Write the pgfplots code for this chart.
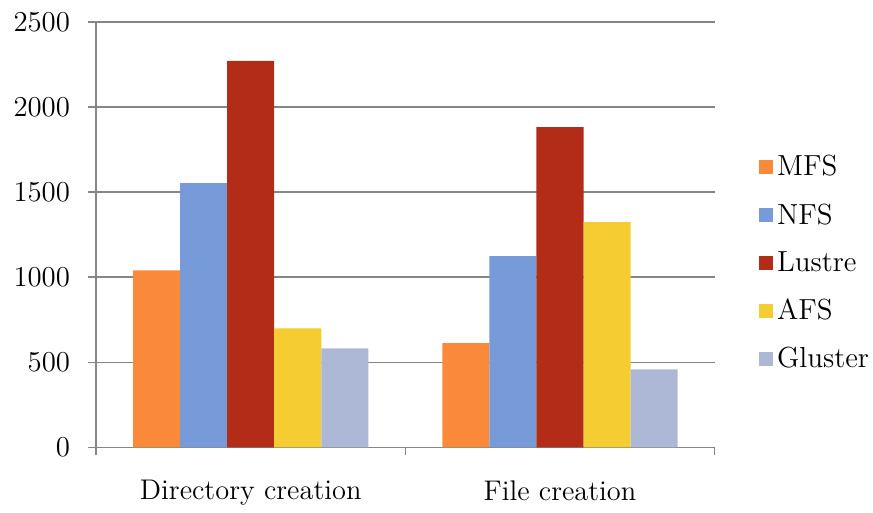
\documentclass[border=0pt]{standalone}
\usepackage{pgfplots}
\pgfplotsset{compat=1.18}
\definecolor{cMFS}{HTML}{FA8A3A}
\definecolor{cNFS}{HTML}{779BD9}
\definecolor{cLustre}{HTML}{B22C18}
\definecolor{cAFS}{HTML}{F5CC31}
\definecolor{cGluster}{HTML}{ADB8D7}
\definecolor{gridgray}{HTML}{868686}
\begin{document}
\begin{tikzpicture}
\begin{axis}[
  scale only axis,
  width=309pt, height=212.5pt,
  ybar=0pt, bar width=23.5pt,
  ymin=0, ymax=2500,
  ytick={0,500,...,2500},
  xmin=-0.5, xmax=1.5,
  xtick={-0.5,0.5,1.5},
  xticklabels={},
  extra x ticks={0,1},
  extra x tick labels={Directory creation, File creation},
  extra x tick style={major tick length=0pt, grid=none,
    tick style={draw=none}},
  separate axis lines,
  axis x line*=bottom,
  axis y line*=left,
  axis line style={gridgray, line width=0.8pt, -},
  ymajorgrids,
  grid style={gridgray, line width=0.8pt},
  every tick/.style={draw=gridgray, line width=0.8pt},
  major tick length=4pt,
  tick align=outside,
  yticklabel style={font=\fontsize{14.3}{17}\selectfont, xshift=-5.5pt},
  xticklabel style={font=\fontsize{14.2}{17}\selectfont, yshift=-13pt},
  /pgf/number format/1000 sep={},
  legend style={draw=none, fill=none, font=\fontsize{14.5}{17}\selectfont,
    at={(1,0.433)}, anchor=west, xshift=22pt, inner sep=0pt,
    row sep=8.3pt, legend cell align=left},
  legend image code/.code={\fill[#1] (0pt,-3.5pt) rectangle (7pt,3.5pt);},
  clip=false,
]
\addplot[fill=cMFS, draw=none] coordinates {(0,1041) (1,612)};
\addplot[fill=cNFS, draw=none] coordinates {(0,1553) (1,1124)};
\addplot[fill=cLustre, draw=none] coordinates {(0,2271) (1,1882)};
\addplot[fill=cAFS, draw=none] coordinates {(0,700) (1,1324)};
\addplot[fill=cGluster, draw=none] coordinates {(0,582) (1,459)};
\legend{MFS,NFS,Lustre,AFS,Gluster}
\end{axis}
% margins around the plot area
\path ([xshift=-48pt]current axis.south west) ([yshift=11pt]current axis.north west);
\end{tikzpicture}
\end{document}
